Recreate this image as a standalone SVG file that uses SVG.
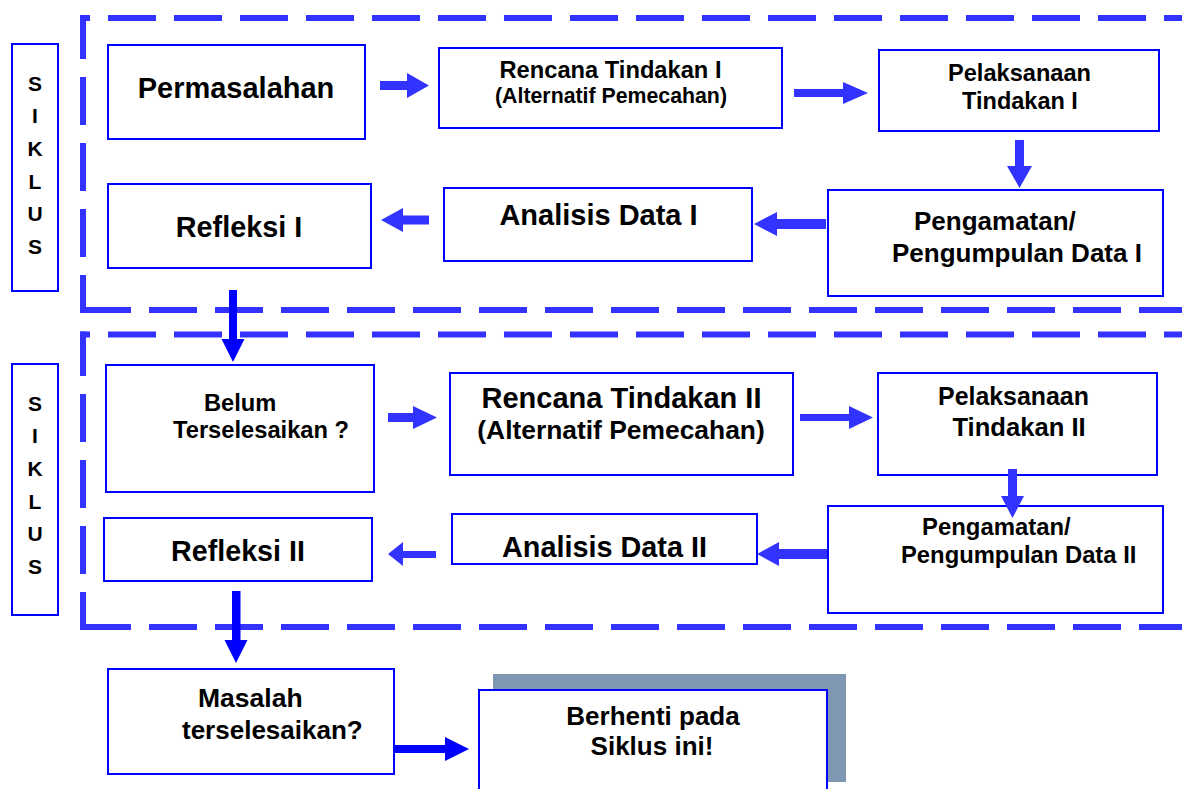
<svg xmlns="http://www.w3.org/2000/svg" width="1182" height="789" viewBox="0 0 1182 789">
<style>
  .box { fill: #ffffff; stroke: #0000ff; stroke-width: 2; }
  .t { font-family: "Liberation Sans", Arial, sans-serif; font-weight: bold; fill: #000000; }
  .m { text-anchor: middle; }
  .dash { stroke: #3333ff; stroke-width: 6; fill: none; stroke-dasharray: 48 18; }
  .arr { fill: #3333ff; }
  .arr2 { fill: #0000ff; }
  .sik { font-family: "Liberation Sans", Arial, sans-serif; font-weight: bold; font-size: 21px; text-anchor: middle; fill: #000000; }
</style>
<rect width="1182" height="789" fill="#ffffff"/>

<!-- dashed cycle frames -->
<g id="frame1">
  <line class="dash" x1="80" y1="18" x2="1190" y2="18" stroke-dashoffset="38"/>
  <line class="dash" x1="83" y1="15" x2="83" y2="313" stroke-dashoffset="4"/>
  <line class="dash" x1="80" y1="310" x2="1190" y2="310" stroke-dashoffset="63"/>
</g>
<g id="frame2">
  <line class="dash" x1="80" y1="334.5" x2="1190" y2="334.5" stroke-dashoffset="38"/>
  <line class="dash" x1="83" y1="331.5" x2="83" y2="630" stroke-dashoffset="3.5"/>
  <line class="dash" x1="80" y1="627" x2="1190" y2="627" stroke-dashoffset="63"/>
</g>

<g id="siklus1">
  <rect class="box" x="12" y="44" width="46" height="247"/>
  <text class="sik" x="35" y="90.5">S</text>
  <text class="sik" x="35" y="123">I</text>
  <text class="sik" x="35" y="156">K</text>
  <text class="sik" x="35" y="188.5">L</text>
  <text class="sik" x="35" y="221">U</text>
  <text class="sik" x="35" y="253.5">S</text>
</g>
<g id="siklus2">
  <rect class="box" x="12" y="364" width="46" height="251"/>
  <text class="sik" x="35" y="410.5">S</text>
  <text class="sik" x="35" y="443">I</text>
  <text class="sik" x="35" y="476">K</text>
  <text class="sik" x="35" y="508.5">L</text>
  <text class="sik" x="35" y="541">U</text>
  <text class="sik" x="35" y="573.5">S</text>
</g>

<g id="permasalahan">
  <rect class="box" x="108" y="45" width="257" height="94"/>
  <text class="t m" x="236" y="98" font-size="29">Permasalahan</text>
</g>
<g id="rencana1">
  <rect class="box" x="439" y="48" width="343" height="80"/>
  <text class="t m" x="610.5" y="78" font-size="23.7">Rencana Tindakan I</text>
  <text class="t m" x="611" y="103" font-size="21.3">(Alternatif Pemecahan)</text>
</g>
<g id="pelaksanaan1">
  <rect class="box" x="879" y="50" width="280" height="81"/>
  <text class="t m" x="1019.5" y="81" font-size="23.6">Pelaksanaan</text>
  <text class="t m" x="1020" y="109" font-size="23.5">Tindakan I</text>
</g>
<g id="pengamatan1">
  <rect class="box" x="828" y="190" width="335" height="106"/>
  <text class="t" x="914" y="230" font-size="26">Pengamatan/</text>
  <text class="t" x="892" y="262" font-size="26">Pengumpulan Data I</text>
</g>
<g id="analisis1">
  <rect class="box" x="444" y="188" width="308" height="73"/>
  <text class="t m" x="598.5" y="225" font-size="29">Analisis Data I</text>
</g>
<g id="refleksi1">
  <rect class="box" x="108" y="184" width="263" height="84"/>
  <text class="t m" x="239" y="237" font-size="28.8">Refleksi I</text>
</g>

<g id="belum">
  <rect class="box" x="106" y="365" width="268" height="127"/>
  <text class="t" x="204" y="411" font-size="23.7">Belum</text>
  <text class="t" x="173" y="438" font-size="23.7">Terselesaikan ?</text>
</g>
<g id="rencana2">
  <rect class="box" x="450" y="373" width="343" height="102"/>
  <text class="t m" x="621.5" y="408" font-size="29">Rencana Tindakan II</text>
  <text class="t m" x="621" y="439" font-size="26.4">(Alternatif Pemecahan)</text>
</g>
<g id="pelaksanaan2">
  <rect class="box" x="878" y="373" width="279" height="102"/>
  <text class="t m" x="1013.5" y="405" font-size="24.9">Pelaksanaan</text>
  <text class="t m" x="1019" y="436" font-size="25.6">Tindakan II</text>
</g>
<g id="pengamatan2">
  <rect class="box" x="828" y="506" width="335" height="107"/>
  <text class="t" x="922" y="535" font-size="23.9">Pengamatan/</text>
  <text class="t" x="901" y="563" font-size="23.8">Pengumpulan Data II</text>
</g>
<g id="analisis2">
  <rect class="box" x="452" y="514" width="305" height="50"/>
  <text class="t m" x="604.5" y="557" font-size="28.8">Analisis Data II</text>
</g>
<g id="refleksi2">
  <rect class="box" x="104" y="518" width="268" height="63"/>
  <text class="t m" x="238" y="561" font-size="28.7">Refleksi II</text>
</g>

<g id="masalah">
  <rect class="box" x="108" y="669" width="286" height="105"/>
  <text class="t" x="198" y="707" font-size="26.5">Masalah</text>
  <text class="t" x="182" y="739" font-size="26">terselesaikan?</text>
</g>
<g id="berhenti">
  <rect x="493" y="674" width="353" height="108" fill="#7f97b3"/>
  <rect class="box" x="479" y="690" width="348" height="120"/>
  <text class="t m" x="653" y="725" font-size="26">Berhenti pada</text>
  <text class="t m" x="652" y="755" font-size="26">Siklus ini!</text>
</g>

<g id="connectors">
  <polygon class="arr" points="380,81 407,81 407,73 429,85.5 407,98 407,90 380,90"/>
  <polygon class="arr" points="794,89 843,89 843,82 868,93 843,104 843,97 794,97"/>
  <polygon class="arr" points="1015,140 1024,140 1024,166 1032,166 1019.5,188 1007,166 1015,166"/>
  <polygon class="arr" points="826,219 777,219 777,212 754,224 777,236 777,229 826,229"/>
  <polygon class="arr" points="429,215.5 403,215.5 403,208 381,220 403,232 403,224.5 429,224.5"/>
  <polygon class="arr2" points="229,290 237,290 237,339 244.5,339 233,362 221.5,339 229,339"/>
  <polygon class="arr" points="388,413 413,413 413,406 437,417.5 413,429 413,422 388,422"/>
  <polygon class="arr" points="800,414 849,414 849,406 873,417.5 849,429 849,421 800,421"/>
  <polygon class="arr" points="1008,469 1017,469 1017,496 1024,496 1012.5,518 1001,496 1008,496"/>
  <polygon class="arr" points="827,549 779,549 779,542 757,554 779,566 779,559 827,559"/>
  <polygon class="arr" points="436,551 403,551 403,542 388,554 403,566 403,558 436,558"/>
  <polygon class="arr2" points="232,591 240.5,591 240.5,640 247.5,640 236,663 224.5,640 232,640"/>
  <polygon class="arr2" points="395,745 445,745 445,737 469,749 445,761 445,753 395,753"/>
</g>
</svg>
